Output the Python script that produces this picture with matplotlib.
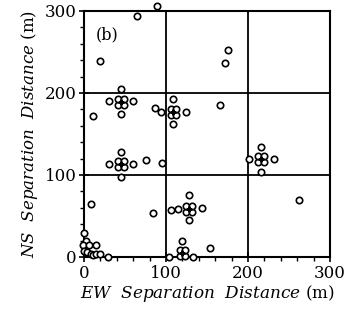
import matplotlib
matplotlib.use("Agg")
import matplotlib.pyplot as plt
import numpy as np

plt.rcParams['font.family'] = ['DejaVu Serif']
plt.rcParams['mathtext.fontset'] = 'custom'
plt.rcParams['mathtext.rm'] = 'DejaVu Serif'
plt.rcParams['mathtext.it'] = 'DejaVu Serif:italic'

# EW / NS separation distances (m) of station pairs
ew = [89, 64, 20, 45, 30, 60, 45, 10.6, 109, 109, 109, 87, 94, 124,
      175, 171.5, 165.5,
      45, 45, 45, 30, 60, 75, 95, 8, 84,
      128.5, 128.5, 128.5, 114, 106.5, 144,
      0, 2, -1, 6, 15, 0, 4, 8, 11, 15, 19, 29,
      103, 119, 133, 154,
      216, 216, 216, 201, 232, 262]
ns = [306, 294, 239, 204.5, 190, 190, 174.5, 172, 192, 176.5, 162, 181, 177, 177,
      252, 236, 185,
      128, 113.5, 98, 113.5, 113.5, 118, 114, 65, 53,
      75.5, 59, 45, 59, 57, 59.5,
      29, 19, 15, 15, 15, 7, 6, 4, 2, 3, 3, 0.4,
      0.4, 19, 0.4, 11,
      134.5, 119, 104, 119, 119, 69]

# grouped pairs drawn as four touching circles (cluster centres)
cx = [45, 109, 45, 128.5, 120, 216]
cy = [189, 176.5, 113.5, 59, 5, 119]
d = 3.6

fig = plt.figure(figsize=(3.46, 3.20), dpi=100)
ax = fig.add_axes([0.243, 0.197, 0.711, 0.769])

ax.plot(ew, ns, 'o', mfc='white', mec='black', ms=4.6, mew=1.2, ls='none',
        clip_on=False, zorder=3)
for x0, y0 in zip(cx, cy):
    qx = [x0 - d, x0 + d, x0 - d, x0 + d]
    qy = [y0 - d, y0 - d, y0 + d, y0 + d]
    ax.plot(qx, qy, 'o', mfc='white', mec='black', ms=4.6, mew=1.2, ls='none',
            clip_on=False, zorder=4)
    ax.plot([x0], [y0], 'P', color='black', ms=3.5, zorder=5)

ax.set_xlim(0, 300)
ax.set_ylim(0, 300)
ax.set_xticks([0, 100, 200, 300])
ax.set_yticks([0, 100, 200, 300])
ax.set_xticks(np.arange(0, 301, 20), minor=True)
ax.set_yticks(np.arange(0, 301, 20), minor=True)
ax.grid(True, which='major', color='black', lw=1.3)
for s in ax.spines.values():
    s.set_linewidth(1.5)
ax.tick_params(which='major', direction='inout', length=7, width=1.2, labelsize=12, pad=2)
ax.tick_params(which='minor', direction='out', length=3, width=1.0)

ax.text(14, 265, '(b)', fontsize=11.5)

ax.set_xlabel(r'$\it{EW\ \ Separation\ \ Distance}$ (m)', fontsize=12.2, labelpad=1)
ax.set_ylabel(r'$\it{NS\ \ Separation\ \ Distance}$ (m)', fontsize=12, labelpad=3)

fig.savefig('out.png', dpi=100)
